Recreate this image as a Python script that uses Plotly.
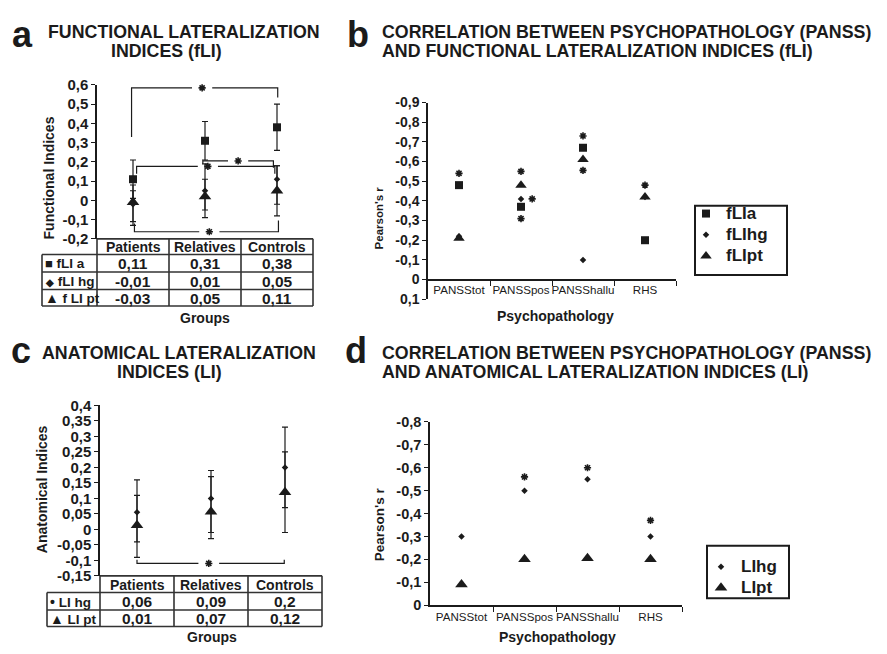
import plotly.graph_objects as go

W, H = 887, 654
def X(px): return px / W
def Y(py): return 1 - py / H

FONT = "Liberation Sans, Arial, Helvetica, sans-serif"
INK = "#1b1b1b"

# ---------------- data ----------------
groups = ["Patients", "Relatives", "Controls"]
psy = ["PANSStot", "PANSSpos", "PANSShallu", "RHS"]

# panel a (functional LI, group means with error bars)
a_fLIa = [0.11, 0.31, 0.38]
a_fLIa_up = [0.10, 0.10, 0.12]
a_fLIa_dn = [0.10, 0.10, 0.12]
a_fLIhg = [-0.02, 0.05, 0.11]
a_fLIhg_up = [0.10, 0.14, 0.07]
a_fLIhg_dn = [0.11, 0.14, 0.13]
a_fLIpt = [-0.01, 0.02, 0.05]
a_fLIpt_up = [0.06, 0.09, 0.13]
a_fLIpt_dn = [0.10, 0.07, 0.13]
a_table_labels = ["fLI a", "fLI hg", "f LI pt"]
a_table_symbols = ["■", "◆", "▲"]
a_table_fLIa = [0.11, 0.31, 0.38]
a_table_fLIhg = [-0.01, 0.01, 0.05]
a_table_fLIpt = [-0.03, 0.05, 0.11]
# significance brackets: (x_left, x_right, y_bar, y_left_end, y_right_end, star_x)
a_brackets = [
    (-0.02, 2.01, 0.585, 0.33, 0.535, 0.96),
    (0.97, 1.95, 0.205, 0.19, 0.17, 1.46),
    (0.05, 1.97, 0.177, 0.138, 0.138, 1.04),
    (0.02, 2.02, -0.163, -0.12, -0.105, 1.06),
]
a_yticks = [-0.2, -0.1, 0, 0.1, 0.2, 0.3, 0.4, 0.5, 0.6]
a_yticklabels = ["-0,2", "-0,1", "0", "0,1", "0,2", "0,3", "0,4", "0,5", "0,6"]

# panel b (correlations PANSS vs fLI)
b_fLIa = [-0.48, -0.37, -0.67, -0.20]
b_fLIhg = [-0.22, -0.41, -0.10, -0.42]
b_fLIpt = [-0.21, -0.48, -0.61, -0.42]
b_star_x = [0, 1, 1, 1.18, 2, 2, 3]
b_star_y = [-0.54, -0.55, -0.31, -0.41, -0.73, -0.555, -0.48]
b_yticks = [-0.9, -0.8, -0.7, -0.6, -0.5, -0.4, -0.3, -0.2, -0.1, 0, 0.1]
b_yticklabels = ["-0,9", "-0,8", "-0,7", "-0,6", "-0,5", "-0,4", "-0,3", "-0,2", "-0,1", "0", "0,1"]

# panel c (anatomical LI)
c_LIhg = [0.055, 0.10, 0.20]
c_LIhg_up = [0.105, 0.09, 0.13]
c_LIhg_dn = [0.095, 0.11, 0.13]
c_LIpt = [0.013, 0.057, 0.12]
c_LIpt_up = [0.097, 0.113, 0.13]
c_LIpt_dn = [0.103, 0.087, 0.13]
c_table_labels = ["LI hg", "LI pt"]
c_table_symbols = ["•", "▲"]
c_table_LIhg = [0.06, 0.09, 0.2]
c_table_LIpt = [0.01, 0.07, 0.12]
c_brackets = [(0.0, 1.99, -0.11, -0.098, -0.098, 0.97)]
c_yticks = [-0.15, -0.1, -0.05, 0, 0.05, 0.1, 0.15, 0.2, 0.25, 0.3, 0.35, 0.4]
c_yticklabels = ["-0,15", "-0,1", "-0,05", "0", "0,05", "0,1", "0,15", "0,2", "0,25", "0,3", "0,35", "0,4"]

# panel d (correlations PANSS vs LI)
d_LIhg = [-0.30, -0.50, -0.55, -0.30]
d_LIpt = [-0.09, -0.20, -0.205, -0.20]
d_star_x = [1, 2, 3]
d_star_y = [-0.56, -0.60, -0.37]
d_yticks = [-0.8, -0.7, -0.6, -0.5, -0.4, -0.3, -0.2, -0.1, 0]
d_yticklabels = ["-0,8", "-0,7", "-0,6", "-0,5", "-0,4", "-0,3", "-0,2", "-0,1", "0"]


def fmt(v):
    return str(v).replace(".", ",")


def big(name):
    return '<span style="font-size:17px">%s</span>' % name


fig = go.Figure()


def pts(xa, ya, y, symbol, size, up=None, dn=None, name=None, legend=None, x=None):
    if x is None:
        x = list(range(len(y)))
    tr = go.Scatter(
        x=x, y=y, mode="markers", xaxis=xa, yaxis=ya,
        marker=dict(symbol=symbol, size=size, color=INK, line=dict(width=0)),
        name=big(name) if name else None, showlegend=legend is not None, cliponaxis=False,
        hoverinfo="skip",
    )
    if legend is not None:
        tr.legend = legend
    if up is not None:
        tr.error_y = dict(type="data", symmetric=False, array=up, arrayminus=dn,
                          color=INK, thickness=1.2, width=3)
    fig.add_trace(tr)


def stars(xa, ya, x, y):
    fig.add_trace(go.Scatter(
        x=x, y=y, mode="markers", xaxis=xa, yaxis=ya, showlegend=False,
        marker=dict(symbol="asterisk-open", size=6, color=INK, line=dict(width=1.6, color=INK)),
        cliponaxis=False, hoverinfo="skip"))


def brackets(xa, ya, br, gap=0.14):
    xs, ys, sx_, sy_ = [], [], [], []
    for (xl, xr, yb, yl, yr, sx) in br:
        xs += [xl, xl, sx - gap, None, sx + gap, xr, xr, None]
        ys += [yl, yb, yb, None, yb, yb, yr, None]
        sx_.append(sx)
        sy_.append(yb)
    fig.add_trace(go.Scatter(x=xs, y=ys, mode="lines", xaxis=xa, yaxis=ya,
                             line=dict(color=INK, width=1.2), showlegend=False,
                             cliponaxis=False, hoverinfo="skip"))
    stars(xa, ya, sx_, sy_)


# panel a
pts("x", "y", a_fLIa, "square", 8, a_fLIa_up, a_fLIa_dn)
pts("x", "y", a_fLIpt, "triangle-up", 11, a_fLIpt_up, a_fLIpt_dn)
pts("x", "y", a_fLIhg, "diamond", 5, a_fLIhg_up, a_fLIhg_dn)
brackets("x", "y", a_brackets)

# panel b
pts("x2", "y2", b_fLIa, "square", 8, name="fLIa", legend="legend")
pts("x2", "y2", b_fLIhg, "diamond", 5, name="fLIhg", legend="legend")
pts("x2", "y2", b_fLIpt, "triangle-up", 10, name="fLIpt", legend="legend")
stars("x2", "y2", b_star_x, b_star_y)

# panel c
pts("x3", "y3", c_LIpt, "triangle-up", 11, c_LIpt_up, c_LIpt_dn)
pts("x3", "y3", c_LIhg, "diamond", 5, c_LIhg_up, c_LIhg_dn)
brackets("x3", "y3", c_brackets)

# panel d
pts("x4", "y4", d_LIhg, "diamond", 5, name="LIhg", legend="legend2")
pts("x4", "y4", d_LIpt, "triangle-up", 11, name="LIpt", legend="legend2")
stars("x4", "y4", d_star_x, d_star_y)

# ---------------- axes ----------------
def yax(dom_px, rng, tv, tt, anchor, size=14):
    return dict(domain=[Y(dom_px[1]), Y(dom_px[0])], range=rng, anchor=anchor,
                tickmode="array", tickvals=tv, ticktext=tt, ticks="outside", ticklen=4,
                tickwidth=1, tickcolor=INK, showline=True, linecolor=INK, linewidth=1.5,
                showgrid=False, zeroline=False,
                tickfont=dict(family=FONT, size=size, color=INK, weight="bold"))


def xcat(dom_px, anchor, position=None):
    d = dict(domain=[X(dom_px[0]), X(dom_px[1])], range=[-0.5, 3.5],
             tickmode="array", tickvals=list(range(len(psy))), ticktext=psy, ticks="",
             tickangle=0,
             showline=True, linecolor=INK, linewidth=1.5, showgrid=False, zeroline=False,
             tickfont=dict(family=FONT, size=11.6, color=INK),
             minor=dict(tickmode="array", tickvals=[0.5, 1.5, 2.5, 3.5], ticks="outside",
                        ticklen=5, tickwidth=1, tickcolor=INK, showgrid=False))
    if position is None:
        d["anchor"] = anchor
    else:
        d["anchor"] = "free"
        d["position"] = position
    return d


legend_common = dict(xanchor="left", yanchor="top", bgcolor="rgba(0,0,0,0)",
                     borderwidth=0, itemsizing="trace",
                     font=dict(family=FONT, size=14, color=INK, weight="bold"))

layout = dict(
    width=W, height=H, margin=dict(l=0, r=0, t=0, b=0),
    paper_bgcolor="white", plot_bgcolor="white",
    font=dict(family=FONT, color=INK),
    xaxis=dict(domain=[X(97), X(313)], range=[-0.5, 2.5], visible=False, anchor="y"),
    yaxis=yax((78, 236), [-0.2, 0.6], a_yticks, a_yticklabels, "x", size=15),
    xaxis2=xcat((428, 676), "y2", position=Y(278)),
    yaxis2=yax((96, 298), [0.1, -0.9], b_yticks, b_yticklabels, "x2", size=14),
    xaxis3=dict(domain=[X(100), X(322)], range=[-0.5, 2.5], visible=False, anchor="y3"),
    yaxis3=yax((407, 582), [-0.15, 0.4], c_yticks, c_yticklabels, "x3", size=15),
    xaxis4=xcat((430, 682), "y4"),
    yaxis4=yax((424, 612), [0, -0.8], d_yticks, d_yticklabels, "x4", size=14.5),
    legend=dict(x=X(686), y=Y(194), **legend_common),
    legend2=dict(x=X(701), y=Y(556.5), **legend_common),
)
fig.update_layout(**layout)

# ---------------- tables (shapes + text) ----------------
shapes = []
anns = []


def line(x0, y0, x1, y1, w=1.6):
    shapes.append(dict(type="line", xref="paper", yref="paper", x0=X(x0), y0=Y(y0),
                       x1=X(x1), y1=Y(y1), line=dict(color="#333", width=w)))


def box(x0, y0, x1, y1, w=2):
    shapes.append(dict(type="rect", xref="paper", yref="paper", x0=X(x0), y0=Y(y1),
                       x1=X(x1), y1=Y(y0), line=dict(color=INK, width=w),
                       fillcolor="rgba(0,0,0,0)"))


def text(t, x, y, size, bold=True, xanchor="center", angle=0):
    anns.append(dict(text=t, x=X(x), y=Y(y), xref="paper", yref="paper", showarrow=False,
                     xanchor=xanchor, yanchor="middle", textangle=angle,
                     font=dict(family=FONT, size=size, color=INK,
                               weight="bold" if bold else "normal")))


def table(col_edges, label_left, header_top, row_edges, labels, symbols, rows, sym_sizes):
    line(col_edges[0], header_top, col_edges[-1], header_top)
    for r in row_edges:
        line(label_left, r, col_edges[-1], r)
    for c in col_edges:
        line(c, header_top, c, row_edges[-1])
    line(label_left, row_edges[0], label_left, row_edges[-1])
    centers = [(col_edges[i] + col_edges[i + 1]) / 2 for i in range(len(col_edges) - 1)]
    for g, cx in zip(groups, centers):
        text(g, cx, (header_top + row_edges[0]) / 2 + 0.5, 14)
    for i, (lab, sym, vals) in enumerate(zip(labels, symbols, rows)):
        cy = (row_edges[i] + row_edges[i + 1]) / 2 + 0.5
        text('<span style="font-size:%dpx">%s</span> %s' % (sym_sizes[i], sym, lab),
             label_left + 1, cy, 13.5, xanchor="left")
        for v, cx in zip(vals, centers):
            text(fmt(v), cx, cy, 15.5)


table([97, 169, 241, 313], 42, 236, [252, 270, 288, 305], a_table_labels, a_table_symbols,
      [a_table_fLIa, a_table_fLIhg, a_table_fLIpt], [13, 10, 14])
table([100, 174, 248, 322], 47, 582, [599, 617, 634], c_table_labels, c_table_symbols,
      [c_table_LIhg, c_table_LIpt], [14, 14])

# legend frames
box(695, 202, 787, 273)
box(707, 551, 789, 605)

# ---------------- titles ----------------
TS = 17.8
text("a", 22, 26.5, 36)
text("FUNCTIONAL LATERALIZATION", 46, 24, TS, xanchor="left")
text("INDICES (fLI)", 166, 43.5, TS)
text("b", 358, 26.5, 36)
text("CORRELATION BETWEEN PSYCHOPATHOLOGY (PANSS)", 380, 24, TS, xanchor="left")
text("AND FUNCTIONAL LATERALIZATION INDICES (fLI)", 380, 43.5, TS, xanchor="left")
text("c", 21, 350.5, 36)
text("ANATOMICAL LATERALIZATION", 40, 353.5, TS, xanchor="left")
text("INDICES (LI)", 169, 373, TS)
text("d", 356, 350.5, 36)
text("CORRELATION BETWEEN PSYCHOPATHOLOGY (PANSS)", 380, 353.5, TS, xanchor="left")
text("AND ANATOMICAL LATERALIZATION INDICES (LI)", 380, 373, TS, xanchor="left")

# axis titles
text("Functional Indices", 49, 174, 14, angle=-90)
text("Groups", 205, 317, 14)
text("Pearson's r", 379, 215, 11.5, angle=-90)
text("Psychopathology", 555, 315, 14)
text("Anatomical Indices", 42, 493, 14, angle=-90)
text("Groups", 212, 645, 14)
text("Pearson's r", 379, 529, 13.5, angle=-90)
text("Psychopathology", 557, 645, 14)

fig.update_layout(shapes=shapes, annotations=anns)
fig.write_html(
    "out.html",
    config={"displayModeBar": False},
    post_script="document.body.style.margin='0px';document.body.style.overflow='hidden';",
)
